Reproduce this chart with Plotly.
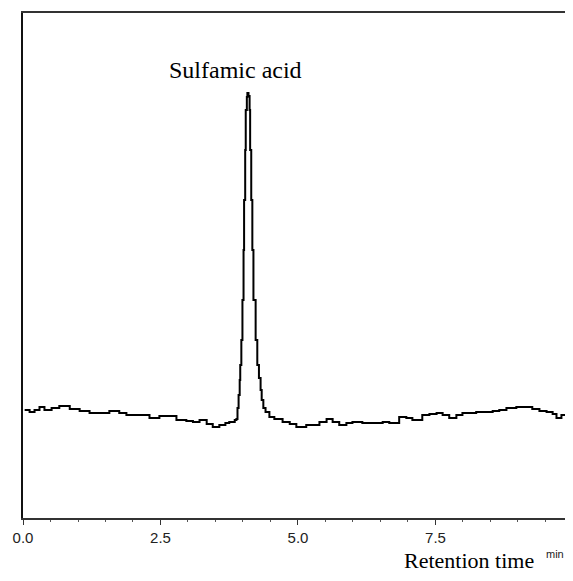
import plotly.graph_objects as go

# Retention time (min) and detector signal (arbitrary units)
time_min = [0.03, 0.12, 0.21, 0.30, 0.39, 0.52, 0.66, 0.85, 1.03, 1.21, 1.39, 1.57, 1.75, 1.88,
            2.12, 2.30, 2.48, 2.61, 2.79, 2.97, 3.09, 3.21, 3.34, 3.45, 3.57, 3.68, 3.75, 3.85,
            3.88, 3.90, 3.92, 3.94, 3.95, 3.97, 3.99, 4.01, 4.02, 4.04, 4.05, 4.07, 4.08, 4.10,
            4.12, 4.13, 4.15, 4.17, 4.19, 4.23, 4.26, 4.29, 4.32, 4.34, 4.37, 4.41, 4.48, 4.57,
            4.72, 4.85, 4.97, 5.03, 5.15, 5.27, 5.39, 5.52, 5.63, 5.75, 5.88, 5.99, 6.17, 6.35,
            6.54, 6.66, 6.84, 6.97, 7.08, 7.26, 7.39, 7.52, 7.63, 7.75, 7.88, 7.99, 8.12, 8.24,
            8.39, 8.54, 8.66, 8.79, 8.97, 9.15, 9.26, 9.39, 9.52, 9.63, 9.70, 9.79, 9.88, 9.97]
signal = [108, 106, 108, 111, 108, 110, 112, 109, 107, 105, 105, 107, 105, 103,
          103, 100, 102, 102, 98, 97, 96, 98, 94, 91, 93, 95, 96, 98,
          99, 110, 123, 138, 153, 178, 218, 268, 318, 368, 408, 421, 425, 422,
          408, 368, 318, 268, 218, 178, 153, 140, 128, 118, 110, 106, 101, 99,
          96, 94, 91, 91, 93, 93, 96, 99, 96, 93, 95, 96, 95, 95,
          96, 95, 101, 100, 98, 103, 104, 105, 103, 100, 103, 105, 105, 106,
          106, 107, 108, 110, 111, 111, 109, 107, 106, 104, 100, 103, 105, 105]

x_tick_vals = [0.0, 2.5, 5.0, 7.5]
x_tick_text = ["0.0", "2.5", "5.0", "7.5"]

peak_label = "Sulfamic acid"
peak_label_time = 3.86
peak_label_signal = 448

fig = go.Figure()
fig.add_trace(go.Scatter(
    x=time_min, y=signal, mode="lines",
    line=dict(color="black", width=2, shape="hv"),
    showlegend=False, hoverinfo="skip",
))

fig.update_layout(
    width=557, height=565,
    margin=dict(l=15, r=0, t=5, b=55),
    paper_bgcolor="white", plot_bgcolor="white",
    font=dict(family="Liberation Sans, Arial, sans-serif", color="#222"),
    xaxis=dict(
        range=[0, 9.855], showgrid=False, zeroline=False,
        showline=True, linecolor="#333", linewidth=2, mirror=True,
        tickmode="array", tickvals=x_tick_vals, ticktext=x_tick_text,
        ticks="outside", ticklen=5, tickwidth=1, tickcolor="#333",
        tickfont=dict(size=15, family="Liberation Sans, Arial, sans-serif", color="#222"),
        minor=dict(dtick=0.5, ticks="outside", ticklen=2, tickcolor="#555"),
    ),
    yaxis=dict(
        range=[0, 505], showgrid=False, zeroline=False,
        showline=True, linecolor="#111", linewidth=2,
        showticklabels=False, ticks="",
    ),
    annotations=[
        dict(x=peak_label_time, y=peak_label_signal, xref="x", yref="y",
             text=peak_label, showarrow=False, xanchor="center", yanchor="middle",
             font=dict(family="Liberation Serif, Times New Roman, serif", size=24, color="black")),
        dict(x=0.823, y=-0.085, xref="paper", yref="paper",
             text="Retention time", showarrow=False, xanchor="center", yanchor="middle",
             font=dict(family="Liberation Serif, Times New Roman, serif", size=22, color="black")),
        dict(x=0.981, y=-0.071, xref="paper", yref="paper",
             text="min", showarrow=False, xanchor="center", yanchor="middle",
             font=dict(family="Liberation Sans, Arial, sans-serif", size=11, color="#222")),
    ],
)

fig.write_html("out.html")
